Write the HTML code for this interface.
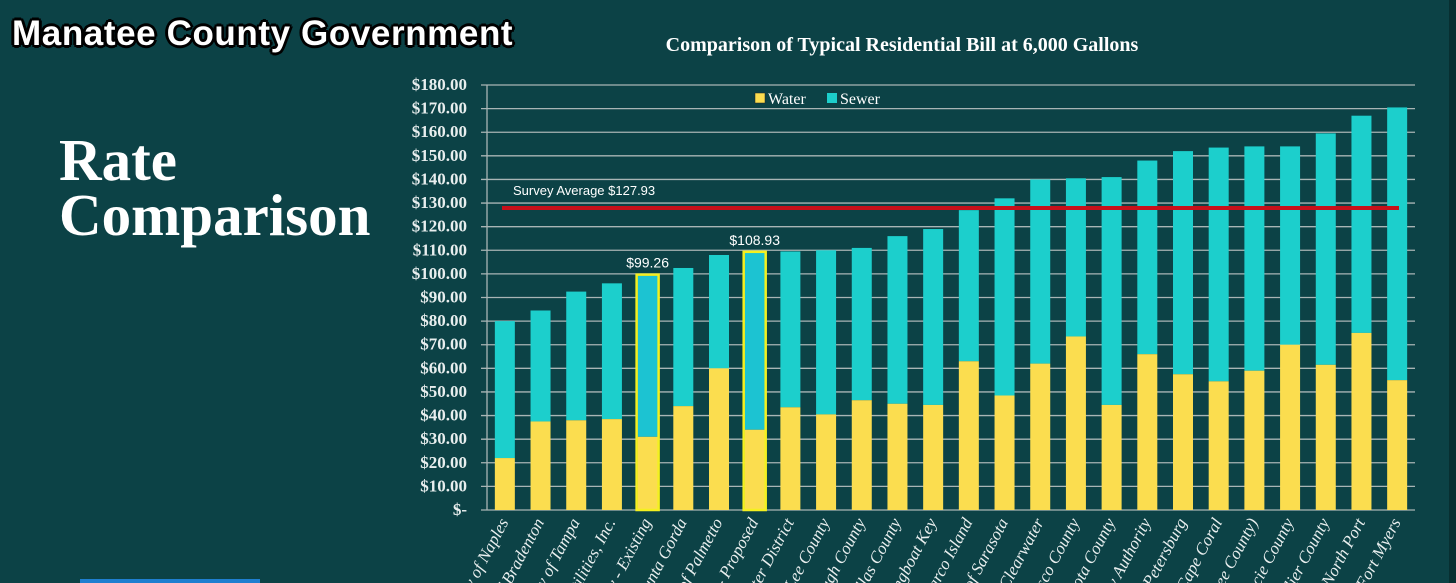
<!DOCTYPE html>
<html><head><meta charset="utf-8"><style>
html,body{margin:0;padding:0;overflow:hidden;}
body{width:1456px;height:583px;background:#0c4246;position:relative;overflow:hidden;font-family:"Liberation Serif",serif;}
#hdr{position:absolute;left:12px;top:14px;font-family:"Liberation Sans",sans-serif;font-weight:bold;font-size:35px;color:#fff;text-shadow:-2px -2px 0 #000,2px -2px 0 #000,-2px 2px 0 #000,2px 2px 0 #000,0 3px 0 #000,3px 0 0 #000,-3px 0 0 #000,0 -3px 0 #000;letter-spacing:0.6px;}
#ttl{position:absolute;left:59px;top:133px;color:#fff;font-weight:bold;font-size:59px;line-height:55px;}
#edge{position:absolute;left:1449px;top:0;width:7px;height:583px;background:#082f31;}
#blue{position:absolute;left:80px;top:579px;width:180px;height:4px;background:#1f7fd0;}
</style></head><body>
<div id="hdr">Manatee County Government</div>
<div id="ttl">Rate<br>Comparison</div>
<div id="edge"></div>
<div id="blue"></div>
<svg id="chart" width="1456" height="583" style="position:absolute;left:0;top:0;overflow:hidden"></svg>
<script>
const categories=["City of Naples","City of Bradenton","City of Tampa","FL Gov Utilities, Inc.","Manatee County - Existing","City of Punta Gorda","City of Palmetto","Manatee County - Proposed","Englewood Water District","Lee County","Hillsborough County","Pinellas County","Town of Longboat Key","City of Marco Island","City of Sarasota","City of Clearwater","Pasco County","Sarasota County","Tampa Bay Authority","City of St. Petersburg","City of Cape Coral","Bonita (Lee County)","St. Lucie County","Collier County","City of North Port","City of Fort Myers"];
const waterValues=[22,37.5,38,38.5,31,44,60,34,43.5,40.5,46.5,45,44.5,63,48.5,62,73.5,44.5,66,57.5,54.5,59,70,61.5,75,55];
const totalValues=[80,84.5,92.5,96,99.26,102.5,108,108.93,109.5,110,111,116,119,127,132,140,140.5,141,148,152,153.5,154,154,159.5,167,170.5];
const highlighted=[4,7];
const highlightLabels=["$99.26","$108.93"];
const yTicks=[0,10,20,30,40,50,60,70,80,90,100,110,120,130,140,150,160,170,180];
const surveyAverage=127.93;

const svg=document.getElementById('chart');
const NS='http://www.w3.org/2000/svg';
const X0=487,X1=1415,Y0=510,Y1=85,YMAX=180;
const band=(X1-X0)/categories.length;
const bw=20;
const y=v=>Y0-(v/YMAX)*(Y0-Y1);
const xc=i=>X0+band*(i+0.5);
function mk(t,a){const e=document.createElementNS(NS,t);for(const k in a)e.setAttribute(k,a[k]);svg.appendChild(e);return e;}

let t=mk('text',{x:902,y:51,'text-anchor':'middle',fill:'#fff','font-size':20,'font-weight':'bold','font-family':'Liberation Serif, serif'});
t.textContent='Comparison of Typical Residential Bill at 6,000 Gallons';



yTicks.forEach(v=>{
  const g=mk('line',{x1:X0-6,x2:X1,y1:y(v),y2:y(v),stroke:'#a9b5b5','stroke-width':1.3});
  
  
  const l=mk('text',{x:467,y:y(v)+5,'text-anchor':'end',fill:'#e8eeee','font-size':17,'font-weight':'bold','font-family':'Liberation Serif, serif'});
  l.textContent=v===0?'$-':'$'+v.toFixed(2);
  
  
});
const ax=mk('line',{x1:X0,x2:X0,y1:Y1,y2:Y0,stroke:'#a9b5b5','stroke-width':1.3});



categories.forEach((c,i)=>{
  const x=xc(i)-bw/2;
  const hi=highlighted.includes(i);
  const s=mk('rect',{x:x,y:y(totalValues[i]),width:bw,height:y(waterValues[i])-y(totalValues[i]),fill:hi?'#1cc3d2':'#1ccfcc'});
  
  
  const w=mk('rect',{x:x,y:y(waterValues[i]),width:bw,height:Y0-y(waterValues[i]),fill:'#fbdd4f'});
  
  
  if(hi){
    const o=mk('rect',{x:x-1,y:y(totalValues[i])-1,width:bw+2,height:Y0-y(totalValues[i])+1,fill:'none',stroke:'#f4f020','stroke-width':2.5});
    
    
    const lb=mk('text',{x:xc(i),y:y(totalValues[i])-8,'text-anchor':'middle',fill:'#fff','font-size':14,'font-family':'Liberation Sans, sans-serif'});
    lb.textContent=highlightLabels[highlighted.indexOf(i)];
    
    
  }
  const xl=mk('text',{x:xc(i)+4,y:522,'text-anchor':'end',fill:'#e8eeee','font-size':17,'font-style':'italic','font-family':'Liberation Serif, serif',transform:`rotate(-62 ${xc(i)+4} 522)`});
  xl.textContent=c;
  
  
});

const av=mk('line',{x1:502,x2:1399,y1:y(surveyAverage),y2:y(surveyAverage),stroke:'#c8101a','stroke-width':4});


const at=mk('text',{x:513,y:195,fill:'#fff','font-size':13,'font-family':'Liberation Sans, sans-serif'});
at.textContent='Survey Average $'+surveyAverage.toFixed(2);



const lg1=mk('rect',{x:755,y:93,width:10,height:10,fill:'#fbdd4f',stroke:'#222','stroke-width':0.5});


const lt1=mk('text',{x:768,y:104,fill:'#fff','font-size':16,'font-family':'Liberation Serif, serif'});
lt1.textContent='Water';


const lg2=mk('rect',{x:827,y:93,width:10,height:10,fill:'#1ccfcc'});


const lt2=mk('text',{x:840,y:104,fill:'#fff','font-size':16,'font-family':'Liberation Serif, serif'});
lt2.textContent='Sewer';


</script>
</body></html>
